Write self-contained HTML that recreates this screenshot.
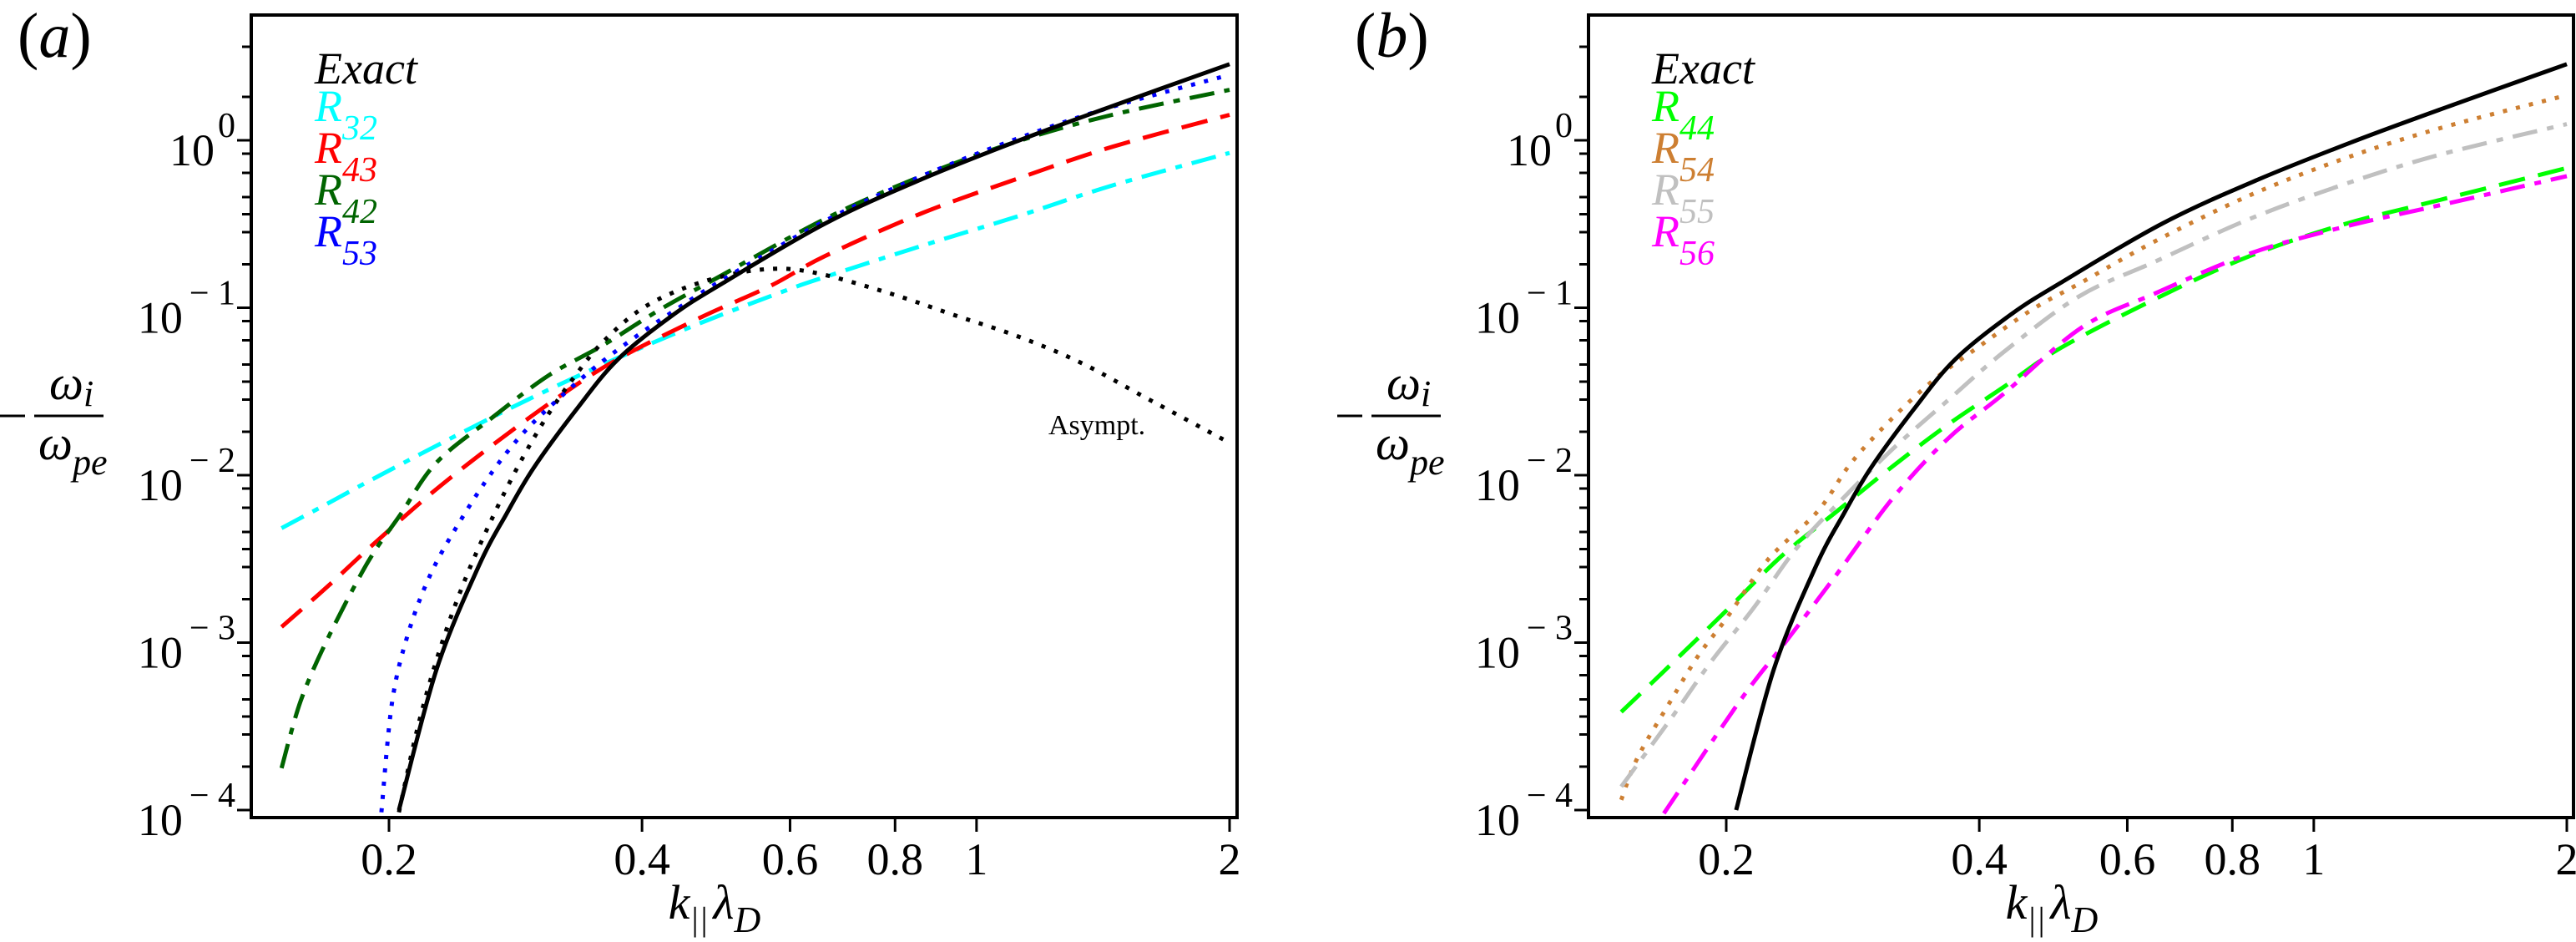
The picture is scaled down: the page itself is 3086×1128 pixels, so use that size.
<!DOCTYPE html>
<html><head><meta charset="utf-8">
<style>
html,body{margin:0;padding:0;background:#fff;}
svg{display:block;}
text{font-family:"Liberation Serif",serif;}
.it{font-style:italic;}
</style></head>
<body>
<svg id="fig" width="3086" height="1128" viewBox="0 0 3086 1128" xmlns="http://www.w3.org/2000/svg" fill="#000">
<defs>
<clipPath id="clipA"><rect x="301" y="18" width="1181" height="961"/></clipPath>
<clipPath id="clipB"><rect x="1903" y="18" width="1180" height="961"/></clipPath>
</defs>
<g id="panelA"></g>
<g id="panelB"></g>
</svg>
<script>
// ---- data (k_par*lambda_D, -omega_i/omega_pe) ----
const exactK = [0.2055,0.2278,0.2554,0.276,0.2978,0.3338,0.3742,0.4363,0.500,0.661,0.86,1.118,1.45,2.0];
const exactV = [1.0e-4,6.9e-4,2.82e-3,5.89e-3,0.0112,0.0245,0.049,0.0912,0.141,0.319,0.585,0.989,1.60,2.85];
const r32K = [0.149,0.169,0.1886,0.2369,0.2978,0.3742,0.4703,0.591,0.661,0.86,1.118,1.45,2.0];
const r32V = [0.00483,0.00676,0.00912,0.0166,0.0295,0.0501,0.0813,0.126,0.153,0.234,0.351,0.537,0.841];
const r43K = [0.149,0.169,0.1886,0.2247,0.2655,0.3166,0.3742,0.4703,0.5684,0.661,0.86,1.118,1.45,2.0];
const r43V = [0.00124,0.00216,0.0036,0.0078,0.0151,0.0288,0.0493,0.0877,0.135,0.204,0.366,0.589,0.914,1.42];
const r42K = [0.149,0.157,0.169,0.1886,0.2064,0.2278,0.2655,0.3094,0.36,0.4196,0.4888,0.661,0.86,1.118,1.45,2.0];
const r42V = [1.78e-4,4.47e-4,1.05e-3,3.0e-3,5.83e-3,0.0119,0.0221,0.0393,0.060,0.0972,0.1486,0.340,0.611,0.984,1.42,2.0];
const r53K = [0.1959,0.2018,0.2112,0.2247,0.2440,0.2655,0.2864,0.3094,0.3469,0.389,0.4363,0.5,0.661,0.86,1.118,1.45,2.0];
const r53V = [9.7e-5,4.47e-4,1.17e-3,2.63e-3,5.5e-3,0.0105,0.017,0.0251,0.0417,0.0646,0.0955,0.148,0.331,0.61,1.023,1.585,2.46];
const asymK = [0.2055,0.2166,0.2299,0.2461,0.2655,0.2864,0.3094,0.3338,0.36,0.4036,0.4703,0.555,0.638,0.788,0.938,1.118,1.33,1.586,2.0];
const asymV = [9.7e-5,3.19e-4,9.1e-4,2.35e-3,5.57e-3,0.0119,0.0231,0.0398,0.063,0.1017,0.142,0.169,0.163,0.122,0.0908,0.0677,0.047,0.0292,0.0156];
const r44K = [0.150,0.1682,0.2,0.2326,0.271,0.3159,0.3674,0.4283,0.4993,0.648,0.84,1.089,1.412,2.0];
const r44V = [3.85e-4,6.67e-4,1.55e-3,3.28e-3,6.1e-3,0.01135,0.0201,0.0338,0.0573,0.113,0.204,0.316,0.44,0.683];
const r54K = [0.150,0.157,0.1716,0.1851,0.2,0.2242,0.2571,0.2818,0.3159,0.3541,0.3971,0.4617,0.5296,0.648,0.84,1.089,1.412,2.0];
const r54V = [1.15e-4,2.07e-4,4.45e-4,8.3e-4,1.39e-3,3.13e-3,6.1e-3,0.0119,0.0221,0.0375,0.0573,0.0972,0.142,0.25,0.47,0.78,1.18,1.86];
const r55K = [0.150,0.1729,0.1923,0.2156,0.2418,0.271,0.3159,0.3674,0.4283,0.526,0.648,0.84,1.089,1.412,2.0];
const r55V = [1.38e-4,3.66e-4,7.8e-4,1.61e-3,3.6e-3,6.7e-3,0.0144,0.0281,0.0547,0.117,0.189,0.34,0.548,0.82,1.25];
const r56K = [0.1686,0.2074,0.2364,0.271,0.3159,0.3674,0.4283,0.5296,0.648,0.84,1.089,1.412,2.0];
const r56V = [9.55e-5,4.45e-4,1.04e-3,2.58e-3,7.33e-3,0.0166,0.0308,0.0763,0.122,0.211,0.305,0.409,0.611];
const xTicks = [0.2,0.4,0.6,0.8,1,2];
const xTickLabels = ["0.2","0.4","0.6","0.8","1","2"];
const yExps = [0,-1,-2,-3,-4];
const yMinorOffsets = [-112,-52,16,39,68,110];

const NS = "http://www.w3.org/2000/svg";
const TOP = 18, BOT = 979;
function xs(k, left){ return left + 165 + 1007*Math.log10(k/0.2); }
function ys(v){ return 168 - 200.5*Math.log10(v); }
function mk(tag, attrs, parent){
  const e = document.createElementNS(NS, tag);
  for (const a in attrs) e.setAttribute(a, attrs[a]);
  parent.appendChild(e); return e;
}
function pathFrom(K, V, left){
  const p = K.map((k,i)=>[xs(k,left), ys(V[i])]);
  let d = "M"+p[0][0].toFixed(1)+","+p[0][1].toFixed(1);
  for (let i=0;i<p.length-1;i++){
    const p0=p[Math.max(0,i-1)], p1=p[i], p2=p[i+1], p3=p[Math.min(p.length-1,i+2)];
    const c1=[p1[0]+(p2[0]-p0[0])/6, p1[1]+(p2[1]-p0[1])/6];
    const c2=[p2[0]-(p3[0]-p1[0])/6, p2[1]-(p3[1]-p1[1])/6];
    d+=" C"+c1[0].toFixed(1)+","+c1[1].toFixed(1)+" "+c2[0].toFixed(1)+","+c2[1].toFixed(1)+" "+p2[0].toFixed(1)+","+p2[1].toFixed(1);
  }
  return d;
}
function series(g, K, V, left, color, dash, name, clip){
  const e = mk("path", {d:pathFrom(K,V,left), fill:"none", stroke:color, "stroke-width":5, "stroke-dasharray":dash, "clip-path":"url(#"+clip+")"}, g);
  
  
}
function axes(g, left, right, panelLabel){
  const fr = mk("rect", {x:left, y:TOP, width:right-left, height:BOT-TOP, fill:"none", stroke:"#000", "stroke-width":4}, g);
  
  
  xTicks.forEach((t,i)=>{
    const x = xs(t,left);
    const tk = mk("line", {x1:x, x2:x, y1:BOT, y2:BOT+17, stroke:"#000", "stroke-width":3}, g);
    
    
    const tl = mk("text", {x:x, y:BOT+68, "font-size":54, "text-anchor":"middle"}, g);
    tl.textContent = xTickLabels[i];
    
    
  });
  yExps.forEach(ex=>{
    const y = ys(Math.pow(10,ex));
    const tk = mk("line", {x1:left-17, x2:left, y1:y, y2:y, stroke:"#000", "stroke-width":3}, g);
    
    
    const tl = mk("text", {x:left-19, y:y+30, "font-size":54, "text-anchor":"end"}, g);
    const t1 = mk("tspan", {}, tl); t1.textContent = "10";
    const t2 = mk("tspan", {dy:-34, "font-size":42, dx:(ex<0?8:4)}, tl); t2.textContent = (ex<0?"\u2212 ":"")+Math.abs(ex);
    
    
    yMinorOffsets.forEach(o=>{
      const ym = y+o;
      if (ym>TOP+2 && ym<BOT-2){
        const m = mk("line", {x1:left-11, x2:left, y1:ym, y2:ym, stroke:"#000", "stroke-width":3}, g);
        
        
      }
    });
  });
  const xt = mk("text", {x:left+555, y:1100, "font-size":58, "text-anchor":"middle", class:"it"}, g);
  xt.innerHTML = 'k<tspan font-size="40" dy="14">||</tspan><tspan dy="-14" dx="6">λ</tspan><tspan font-size="44" dy="16">D</tspan>';
  
  
  const yg = mk("g", {}, g);
  
  
  mk("line", {x1:left-301, x2:left-271, y1:498, y2:498, stroke:"#000", "stroke-width":3}, yg);
  mk("line", {x1:left-260, x2:left-177, y1:498, y2:498, stroke:"#000", "stroke-width":3}, yg);
  const num = mk("text", {x:left-242, y:478, "font-size":58, class:"it"}, yg);
  num.innerHTML = 'ω<tspan font-size="44" dy="8">i</tspan>';
  const den = mk("text", {x:left-255, y:550, "font-size":58, class:"it"}, yg);
  den.innerHTML = 'ω<tspan font-size="44" dy="18">pe</tspan>';
  const pl = mk("text", {x:left-280, y:68, "font-size":76, class:"it"}, g);
  pl.innerHTML = '<tspan font-style="normal">(</tspan>'+panelLabel+'<tspan font-style="normal">)</tspan>';
  
  
}
function legend(g, left, entries){
  const lg = mk("g", {}, g);
  
  
  const ex = mk("text", {x:left+76, y:100, "font-size":54, class:"it"}, lg);
  ex.textContent = "Exact";
  
  
  entries.forEach((en,i)=>{
    const t = mk("text", {x:left+76, y:145+50*i, "font-size":54, class:"it", style:"fill:"+en[1]}, lg);
    t.innerHTML = 'R<tspan font-size="42" dy="22" style="fill:'+en[1]+'">'+en[0]+'</tspan>';
    
    
  });
}

const gA = document.getElementById("panelA");
const gB = document.getElementById("panelB");
const LA = 301, RA = 1482, LB = 1903, RB = 3083;

series(gA, r32K, r32V, LA, "#00ffff", "30 12 8 12", "series-r32", "clipA");
series(gA, r43K, r43V, LA, "#ff0000", "32 16", "series-r43", "clipA");
series(gA, r42K, r42V, LA, "#006400", "30 12 8 12", "series-r42", "clipA");
series(gA, asymK, asymV, LA, "#000000", "5 11", "series-asymptotic", "clipA");
series(gA, r53K, r53V, LA, "#0000ff", "5 11", "series-r53", "clipA");
series(gA, exactK, exactV, LA, "#000000", "none", "series-exact", "clipA");
axes(gA, LA, RA, "a");
legend(gA, LA, [["32","#00ffff"],["43","#ff0000"],["42","#006400"],["53","#0000ff"]]);
const asl = mk("text", {x:1256, y:520, "font-size":34}, gA);
asl.textContent = "Asympt.";



series(gB, r44K, r44V, LB, "#00ff00", "32 16", "series-r44", "clipB");
series(gB, r54K, r54V, LB, "#cd7f32", "5 11", "series-r54", "clipB");
series(gB, r55K, r55V, LB, "#c0c0c0", "30 12 8 12", "series-r55", "clipB");
series(gB, r56K, r56V, LB, "#ff00ff", "30 12 8 12", "series-r56", "clipB");
series(gB, exactK, exactV, LB, "#000000", "none", "series-exact", "clipB");
axes(gB, LB, RB, "b");
legend(gB, LB, [["44","#00ff00"],["54","#cd7f32"],["55","#c0c0c0"],["56","#ff00ff"]]);
</script>
</body></html>
